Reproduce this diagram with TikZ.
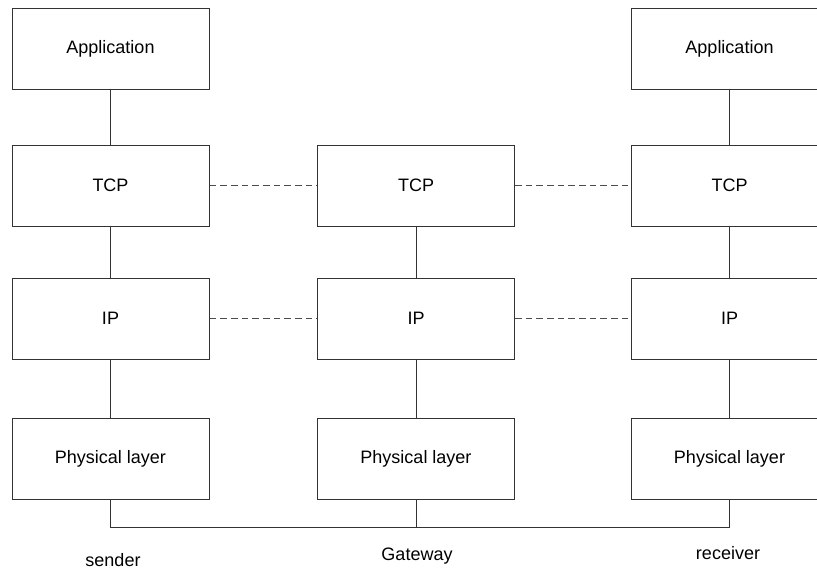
\documentclass[tikz,border=0pt]{standalone}
\usepackage{fontspec}
\setmainfont{Liberation Sans}
\begin{document}
\begin{tikzpicture}[x=0.75pt,y=-0.75pt,
  layer/.style={draw=black!80,line width=0.75pt,minimum width=147.75pt,minimum height=60.75pt,inner sep=0pt,font=\fontsize{13.5}{16}\selectfont,anchor=center},
  link/.style={draw=black!80,line width=0.75pt},
  peer/.style={draw=black!70,line width=0.9pt,dash pattern=on 5pt off 3pt},
  lbl/.style={font=\fontsize{13.5}{16}\selectfont,anchor=center}]
\useasboundingbox (0,0) rectangle (817,569);
% left column
\node[layer] (la) at (110.5,48.5) {Application};
\node[layer] (lt) at (110.5,185.5) {TCP};
\node[layer] (li) at (110.5,318.5) {IP};
\node[layer] (lp) at (110.5,458.5) {Physical layer};
% middle column
\node[layer] (mt) at (416,185.5) {TCP};
\node[layer] (mi) at (416,318.5) {IP};
\node[layer] (mp) at (416,458.5) {Physical layer};
% right column
\node[layer] (ra) at (729.5,48.5) {Application};
\node[layer] (rt) at (729.5,185.5) {TCP};
\node[layer] (ri) at (729.5,318.5) {IP};
\node[layer] (rp) at (729.5,458.5) {Physical layer};
% vertical links
\draw[link] (la) -- (lt);
\draw[link] (lt) -- (li);
\draw[link] (li) -- (lp);
\draw[link] (mt) -- (mi);
\draw[link] (mi) -- (mp);
\draw[link] (ra) -- (rt);
\draw[link] (rt) -- (ri);
\draw[link] (ri) -- (rp);
% peer links
\draw[peer] (lt) -- (mt);
\draw[peer] (mt) -- (rt);
\draw[peer] (li) -- (mi);
\draw[peer] (mi) -- (ri);
% bus
\coordinate (bl) at (110.5,527);
\coordinate (bm) at (416,527);
\coordinate (br) at (729.5,527);
\draw[link] (lp.south) -- (bl) -- (br) -- (rp.south);
\draw[link] (mp.south) -- (bm);
% labels
\node[lbl] (s) at (113,560) {sender};
\node[lbl] (g) at (417,556) {Gateway};
\node[lbl] (r) at (728,553) {receiver};
\end{tikzpicture}
\end{document}
